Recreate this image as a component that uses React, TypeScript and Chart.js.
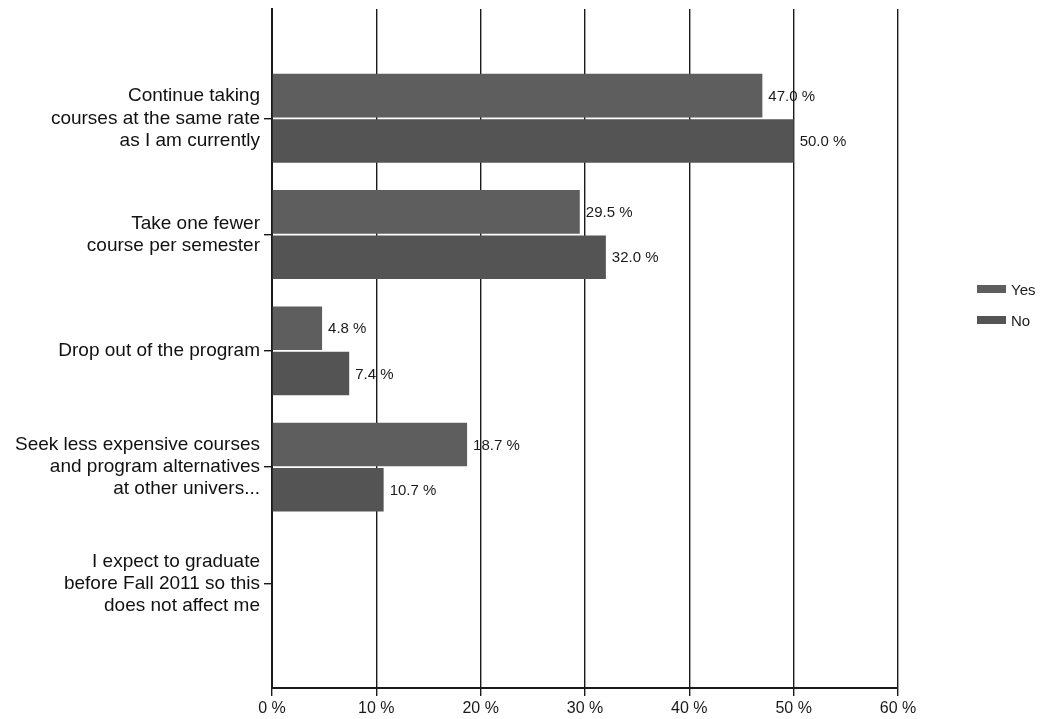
import React, { useEffect, useRef } from "react";
import { Chart, registerables } from "chart.js";

Chart.register(...registerables);

const categories: string[][] = [
  ["Continue taking", "courses at the same rate", "as I am currently"],
  ["Take one fewer", "course per semester"],
  ["Drop out of the program"],
  ["Seek less expensive courses", "and program alternatives", "at other univers..."],
  ["I expect to graduate", "before Fall 2011 so this", "does not affect me"],
];
const seriesNames = ["Yes", "No"];
const yesValues: (number | null)[] = [47.0, 29.5, 4.8, 18.7, null];
const noValues: (number | null)[] = [50.0, 32.0, 7.4, 10.7, null];
const xTicks = [0, 10, 20, 30, 40, 50, 60];
const colors = ["#5e5e5e", "#545454"];

const FONT = "'Liberation Sans', Arial, sans-serif";

const valueLabels = {
  id: "valueLabels",
  afterDatasetsDraw(chart: any) {
    const ctx = chart.ctx;
    ctx.save();
    ctx.font = `15px ${FONT}`;
    ctx.fillStyle = "#1a1a1a";
    ctx.textAlign = "left";
    ctx.textBaseline = "middle";
    chart.data.datasets.forEach((ds: any, i: number) => {
      const meta = chart.getDatasetMeta(i);
      meta.data.forEach((el: any, j: number) => {
        const v = ds.data[j].x;
        if (v === null || v === undefined) return;
        ctx.fillText(v.toFixed(1) + " %", el.x + 6, el.y + 1);
      });
    });
    ctx.restore();
  },
};

export default function App() {
  const ref = useRef<HTMLCanvasElement>(null);
  useEffect(() => {
    if (!ref.current) return;
    Chart.defaults.font.family = FONT;
    const toPoints = (vals: (number | null)[]) =>
      vals.map((v, i) => ({ x: v, y: i }));
    const chart = new Chart(ref.current, {
      type: "bar",
      data: {
        datasets: [
          {
            label: seriesNames[0],
            data: toPoints(yesValues) as any,
            backgroundColor: colors[0],
            categoryPercentage: 0.78,
            barPercentage: 0.96,
          },
          {
            label: seriesNames[1],
            data: toPoints(noValues) as any,
            backgroundColor: colors[1],
            categoryPercentage: 0.78,
            barPercentage: 0.96,
          },
        ],
      },
      options: {
        indexAxis: "y",
        animation: false,
        responsive: false,
        layout: { padding: { top: 9, right: 143, left: 0, bottom: 0 } },
        plugins: {
          legend: { display: false },
          tooltip: { enabled: false },
        },
        scales: {
          x: {
            type: "linear",
            min: 0,
            max: 60,
            afterFit: (s: any) => {
              s.height = 31;
            },
            afterBuildTicks: (s: any) => {
              s.ticks = xTicks.map((v) => ({ value: v }));
            },
            ticks: {
              stepSize: 10,
              autoSkip: false,
              maxRotation: 0,
              padding: 3,
              color: "#1a1a1a",
              font: { size: 16 },
              callback: (v: any) => v + " %",
            },
            grid: {
              color: "#1a1a1a",
              lineWidth: 1.4,
              tickLength: 8,
              drawTicks: true,
            },
            border: { display: true, color: "#1a1a1a", width: 2 },
          },
          y: {
            type: "linear",
            reverse: true,
            offset: false,
            min: -0.94,
            max: 4.9,
            afterFit: (s: any) => {
              s.width = 272;
              s.paddingTop = 0;
              s.paddingBottom = 0;
            },
            afterBuildTicks: (s: any) => {
              s.ticks = categories.map((_, i) => ({ value: i }));
            },
            ticks: {
              autoSkip: false,
              padding: 4,
              color: "#111",
              font: { size: 19, lineHeight: 1.16 },
              callback: (v: any) => categories[v as number] ?? "",
            },
            grid: {
              offset: false,
              drawOnChartArea: false,
              color: "#1a1a1a",
              tickLength: 8,
              lineWidth: 1.4,
            },
            border: { display: true, color: "#1a1a1a", width: 2 },
          },
        },
      },
      plugins: [valueLabels],
    });
    return () => chart.destroy();
  }, []);

  const legendItem = (i: number, top: number) => (
    <div
      key={i}
      style={{
        position: "absolute",
        left: 977,
        top: top - 9,
        height: 18,
        display: "flex",
        alignItems: "center",
        fontFamily: FONT,
        fontSize: 15,
        color: "#1a1a1a",
      }}
    >
      <span
        style={{
          display: "inline-block",
          width: 29,
          height: 8,
          background: colors[i],
          marginRight: 5,
        }}
      />
      <span>{seriesNames[i]}</span>
    </div>
  );

  return (
    <div
      style={{
        position: "fixed",
        left: 0,
        top: 0,
        width: 1041,
        height: 719,
        background: "#fff",
        overflow: "hidden",
      }}
    >
      <canvas ref={ref} width={1041} height={719} style={{ display: "block" }} />
      {legendItem(0, 289)}
      {legendItem(1, 320)}
    </div>
  );
}
